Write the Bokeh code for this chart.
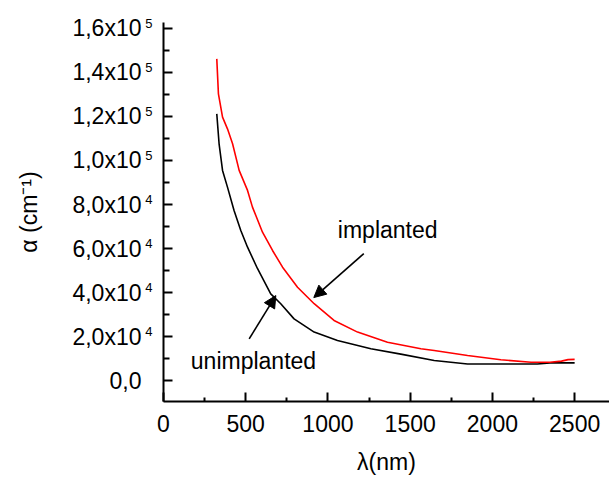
from bokeh.plotting import figure
from bokeh.models import (Range1d, FixedTicker, Arrow, NormalHead, Label, LinearAxis)
from bokeh.embed import file_html
from bokeh.resources import INLINE

# ---- data ----
wl_impl = [324, 334, 359, 389, 420, 460, 511, 541, 602, 663, 724, 815, 916, 1037,
           1180, 1362, 1565, 1646, 1849, 2051, 2235, 2350, 2420, 2460, 2500]
alpha_impl = [146200, 130300, 119700, 114400, 107600, 95500, 86400, 78800, 67400,
              59100, 51500, 42400, 34900, 27300, 22000, 17400, 14400, 13600, 11400,
              9400, 8300, 8300, 8800, 9500, 9600]

wl_unimpl = [324, 338, 359, 389, 429, 470, 511, 572, 652, 713, 794, 916, 1058, 1261,
             1443, 1646, 1849, 2274, 2350, 2500]
alpha_unimpl = [121200, 107600, 95500, 87900, 77300, 68200, 60600, 50800, 39400,
                34900, 28000, 22000, 18200, 14400, 12000, 9100, 7500, 7500, 8000, 8000]

x_ticks = [0, 500, 1000, 1500, 2000, 2500]
x_tick_labels = ["0", "500", "1000", "1500", "2000", "2500"]
x_minor = [250, 750, 1250, 1750, 2250]

y_ticks = [0, 20000, 40000, 60000, 80000, 100000, 120000, 140000, 160000]
y_tick_labels = ["0,0", "2,0x10", "4,0x10", "6,0x10", "8,0x10",
                 "1,0x10", "1,2x10", "1,4x10", "1,6x10"]
y_tick_exponents = ["", "4", "4", "4", "4", "5", "5", "5", "5"]
y_minor = [10000, 30000, 50000, 70000, 90000, 110000, 130000, 150000]

x_title = "\u03bb(nm)"
y_title = "\u03b1 (cm\u207b\u00b9)"

# annotations: label text, position; arrow tail -> tip
ann_texts = ["implanted", "unimplanted"]
ann_x = [1060, 166]
ann_y = [68200, 8640]
arrow_x_start = [1218, 521]
arrow_y_start = [57700, 18950]
arrow_x_end = [914, 683]
arrow_y_end = [37700, 38600]

FONT = "Liberation Sans"
FS = "23px"

Y0, Y1 = -9545, 162727
SUP_SHIFT = 2300  # raises the exponent labels by ~5 px

p = figure(width=609, height=481, output_backend="svg", toolbar_location=None,
           x_range=Range1d(0, 2712), y_range=Range1d(Y0, Y1),
           y_axis_location=None,
           min_border_left=163, min_border_right=0, min_border_top=22,
           min_border_bottom=80)
p.extra_y_ranges = {"sup": Range1d(Y0 - SUP_SHIFT, Y1 - SUP_SHIFT)}
p.outline_line_color = None
p.grid.visible = False
p.background_fill_color = "white"
p.border_fill_color = "white"


def style(ax):
    ax.axis_line_width = 2
    ax.axis_line_color = "black"
    ax.major_tick_line_width = 2
    ax.minor_tick_line_width = 2
    ax.major_tick_line_color = "black"
    ax.minor_tick_line_color = "black"
    ax.major_tick_in = 9
    ax.major_tick_out = 0
    ax.minor_tick_out = 0
    ax.major_label_text_font = FONT
    ax.major_label_text_font_size = FS
    ax.major_label_text_color = "black"
    ax.axis_label_text_font = FONT
    ax.axis_label_text_font_size = FS
    ax.axis_label_text_font_style = "normal"
    ax.axis_label_text_color = "black"


def hide_lines(ax):
    ax.axis_line_color = None
    ax.major_tick_line_color = None
    ax.minor_tick_line_color = None
    ax.major_tick_in = 0
    ax.minor_tick_in = 0


# x axis
xa = p.xaxis[0]
style(xa)
xa.ticker = FixedTicker(ticks=x_ticks, minor_ticks=x_minor)
xa.major_label_overrides = {t: l for t, l in zip(x_ticks, x_tick_labels)}
xa.minor_tick_in = 4
xa.major_label_standoff = 13
xa.axis_label = x_title
xa.axis_label_standoff = 14

# y axis: line and ticks (nearest the frame)
ya = LinearAxis(ticker=FixedTicker(ticks=y_ticks, minor_ticks=y_minor))
style(ya)
ya.minor_tick_in = 6
ya.major_label_overrides = {t: "" for t in y_ticks}
ya.major_label_standoff = 0
p.add_layout(ya, "left")

# y axis: exponents of the tick labels (raised)
ye = LinearAxis(ticker=FixedTicker(ticks=y_ticks), y_range_name="sup")
style(ye)
hide_lines(ye)
ye.major_label_overrides = {t: e for t, e in zip(y_ticks, y_tick_exponents)}
ye.major_label_text_font_size = "13px"
ye.major_label_standoff = 11
p.add_layout(ye, "left")

# y axis: mantissa part of the tick labels and the title
ym = LinearAxis(ticker=FixedTicker(ticks=y_ticks))
style(ym)
hide_lines(ym)
ym.major_label_overrides = {t: l for t, l in zip(y_ticks, y_tick_labels)}
ym.major_label_standoff = 1
ym.axis_label = y_title
ym.axis_label_standoff = 27
p.add_layout(ym, "left")

p.line(wl_unimpl, alpha_unimpl, line_color="black", line_width=1.6)
p.line(wl_impl, alpha_impl, line_color="#ff0000", line_width=1.6)

for i in range(len(ann_texts)):
    p.add_layout(Label(x=ann_x[i], y=ann_y[i], text=ann_texts[i],
                       text_font=FONT, text_font_size=FS, text_color="black",
                       text_baseline="middle", text_align="left"))
    p.add_layout(Arrow(end=NormalHead(size=12, fill_color="black", line_color="black"),
                       x_start=arrow_x_start[i], y_start=arrow_y_start[i],
                       x_end=arrow_x_end[i], y_end=arrow_y_end[i],
                       line_color="black", line_width=1.6))

open("out.html", "w").write(file_html(p, INLINE))
